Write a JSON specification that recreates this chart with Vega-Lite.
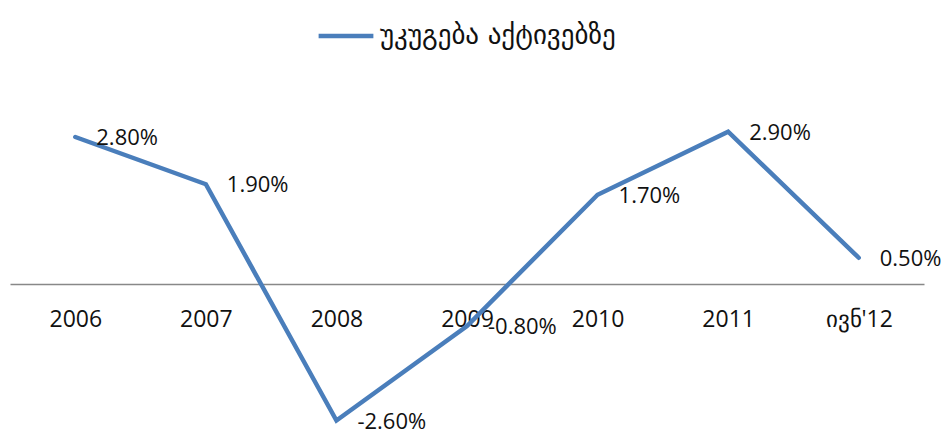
{
  "$schema": "https://vega.github.io/schema/vega-lite/v6.json",
  "autosize": "none",
  "width": 914,
  "height": 357,
  "padding": {"left": 10, "top": 74, "right": 19, "bottom": 3},
  "background": "white",
  "config": {"view": {"stroke": null}},
  "data": {
    "values": [
      {"period": "2006", "value": 2.8, "label": "2.80%", "series": "უკუგება აქტივებზე"},
      {"period": "2007", "value": 1.9, "label": "1.90%", "series": "უკუგება აქტივებზე"},
      {"period": "2008", "value": -2.6, "label": "-2.60%", "series": "უკუგება აქტივებზე"},
      {"period": "2009", "value": -0.8, "label": "-0.80%", "series": "უკუგება აქტივებზე"},
      {"period": "2010", "value": 1.7, "label": "1.70%", "series": "უკუგება აქტივებზე"},
      {"period": "2011", "value": 2.9, "label": "2.90%", "series": "უკუგება აქტივებზე"},
      {"period": "ივნ'12", "value": 0.5, "label": "0.50%", "series": "უკუგება აქტივებზე"}
    ]
  },
  "encoding": {
    "x": {
      "field": "period", "type": "ordinal",
      "scale": {"type": "point", "padding": 0.5},
      "axis": {"title": null, "orient": "bottom", "offset": -147, "ticks": false, "domainColor": "#888888", "domainWidth": 1.5, "labelAngle": 0, "labelFont": "Open Sans", "labelFontSize": 23, "labelColor": "#111111", "labelPadding": 24}
    },
    "y": {"field": "value", "type": "quantitative", "scale": {"domain": [-2.8, 4]}, "axis": null}
  },
  "layer": [
    {
      "mark": {"type": "line", "strokeWidth": 4.5, "strokeCap": "round"},
      "encoding": {
        "color": {"field": "series", "type": "nominal", "scale": {"range": ["#4a7ebb"]},
          "legend": {"title": null, "orient": "none", "legendX": 306, "legendY": -68, "symbolType": "stroke", "symbolSize": 3000, "symbolStrokeWidth": 4.5, "labelFont": "DejaVu Sans", "labelFontSize": 27, "labelColor": "#111111", "labelLimit": 500}}
      }
    },
    {
      "mark": {"type": "text", "font": "Open Sans", "fontSize": 22, "color": "#111111", "align": "left", "baseline": "middle", "dx": 21, "dy": 1},
      "encoding": {"text": {"field": "label"}}
    }
  ]
}
